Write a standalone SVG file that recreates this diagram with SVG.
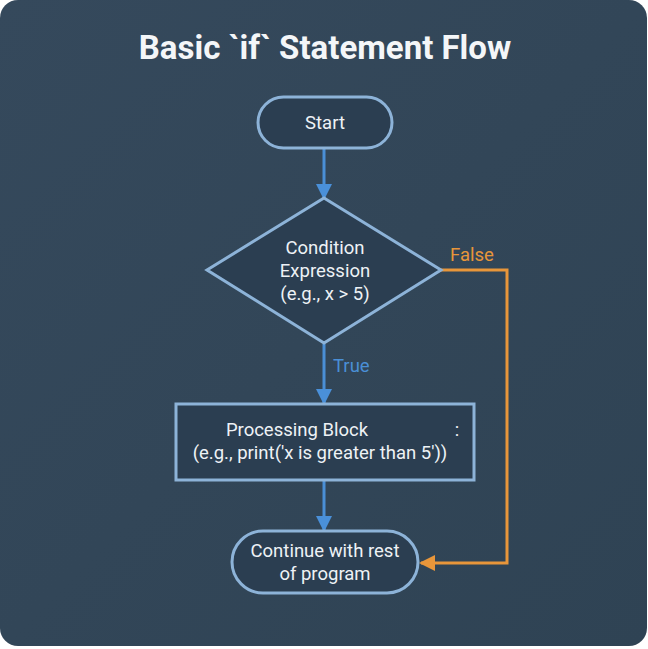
<svg xmlns="http://www.w3.org/2000/svg" width="648" height="649" viewBox="0 0 648 649">
<defs>
<linearGradient id="bg" x1="0" y1="0" x2="1" y2="1">
<stop offset="0" stop-color="#35495c"/>
<stop offset="1" stop-color="#2f4354"/>
</linearGradient>
<marker id="ab" markerWidth="16" markerHeight="16" refX="14" refY="8" orient="auto" markerUnits="userSpaceOnUse" viewBox="0 0 16 16">
<path d="M0,0 L16,8 L0,16 Z" fill="#4a90d9"/>
</marker>
<marker id="ao" markerWidth="16" markerHeight="16" refX="14" refY="8" orient="auto" markerUnits="userSpaceOnUse" viewBox="0 0 16 16">
<path d="M0,0 L16,8 L0,16 Z" fill="#e8963a"/>
</marker>
<style>
.node{fill:#2b3e51;stroke:#8db3d8;stroke-width:3}
.t{font-family:Roboto,"Liberation Sans",sans-serif;fill:#eef2f6;font-size:18.5px;text-anchor:middle}
.blue{stroke:#4a8fd6;stroke-width:3;fill:none}
.orange{stroke:#e8963a;stroke-width:3;fill:none}
</style>
</defs>
<rect x="0" y="0" width="648" height="649" fill="#ffffff"/>
<rect x="0" y="0" width="647" height="646" rx="18" fill="url(#bg)"/>
<text x="325" y="59" font-family="Roboto,'Liberation Sans',sans-serif" font-weight="bold" font-size="33" fill="#f4f6f8" text-anchor="middle">Basic `if` Statement Flow</text>

<g id="connectors">
<line class="blue" x1="324" y1="149" x2="324" y2="198" marker-end="url(#ab)"/>
<line class="blue" x1="324" y1="344" x2="324" y2="403" marker-end="url(#ab)"/>
<line class="blue" x1="324" y1="481" x2="324" y2="530" marker-end="url(#ab)"/>
<polyline class="orange" points="441,270 507,270 507,563 421,563" marker-end="url(#ao)"/>
<text x="333" y="372" font-family="Roboto,'Liberation Sans',sans-serif" font-size="18.5" fill="#4a8fd6">True</text>
<text x="450" y="261" font-family="Roboto,'Liberation Sans',sans-serif" font-size="18.5" fill="#e8963a">False</text>
</g>

<g id="start">
<rect class="node" x="258" y="97" width="134" height="51" rx="25.5"/>
<text class="t" x="325" y="129">Start</text>
</g>

<g id="condition">
<polygon class="node" points="324,198 441,270 324,343 207,270"/>
<text class="t" x="325" y="254">Condition</text>
<text class="t" x="325" y="277">Expression</text>
<text class="t" x="325" y="300">(e.g., x &gt; 5)</text>
</g>

<g id="processing">
<rect class="node" x="176" y="404" width="298" height="76"/>
<text class="t" x="297" y="436">Processing Block</text>
<text class="t" x="457" y="436">:</text>
<text class="t" x="320" y="459">(e.g., print('x is greater than 5'))</text>
</g>

<g id="continue">
<rect class="node" x="232" y="531" width="186" height="62" rx="31"/>
<text class="t" x="325" y="557">Continue with rest</text>
<text class="t" x="325" y="580">of program</text>
</g>
</svg>
